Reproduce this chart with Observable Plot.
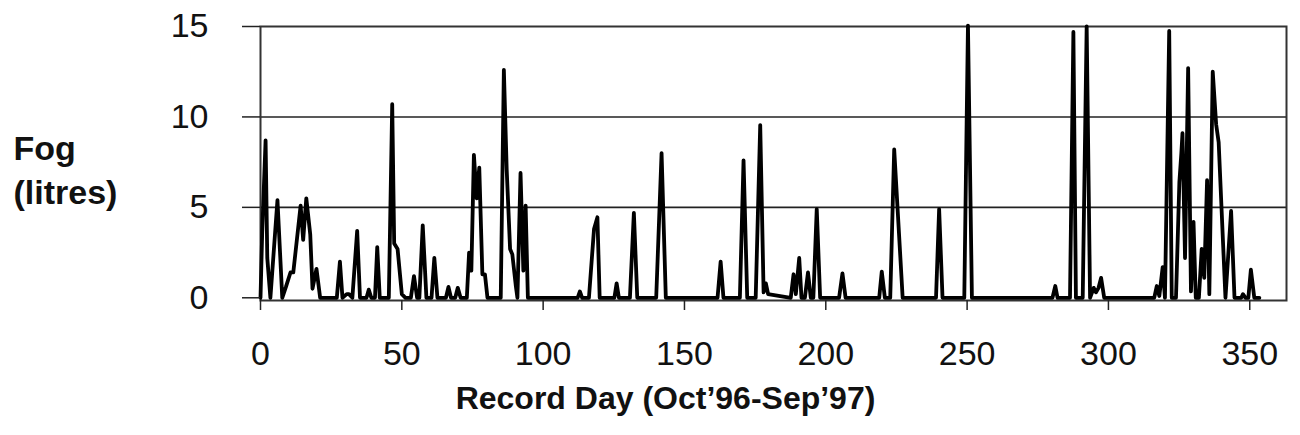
<!DOCTYPE html>
<html>
<head>
<meta charset="utf-8">
<script src="https://cdn.jsdelivr.net/npm/d3@7"></script>
<script src="https://cdn.jsdelivr.net/npm/@observablehq/plot@0.6"></script>
<style>
  html, body { margin: 0; padding: 0; background: #fff; }
  #chart { width: 1300px; height: 435px; }
</style>
</head>
<body>
<div id="chart"></div>
<script>
const days = [
  0, 0.6, 1.8, 2.4, 3.5, 6.0, 7.7, 9.0, 10.6, 11.6, 14.2, 15.1, 16.2, 17.6, 18.4, 19.8, 21.1,
  27.0, 28.1, 29.0, 30.5, 31.3, 32.5, 34.2, 35.2, 37.5, 38.3, 39.2, 40.5, 41.3, 42.2,
  45.4, 46.6, 47.3, 48.5, 50.0, 51.3, 53.2, 54.3, 55.4, 56.2, 57.4, 58.7,
  60.5, 61.5, 62.6, 65.6, 66.5, 67.4, 68.9, 69.8, 70.8,
  73.0, 73.8, 74.6, 75.5, 76.5, 77.4, 78.5, 79.4, 80.3,
  85.0, 86.1, 87.1, 88.3, 89.1, 90.3, 90.9, 92.0, 93.0, 93.8, 94.6,
  112.2, 113.0, 113.8, 116.2, 118.0, 119.2, 120.0, 125.2, 126.0, 126.8,
  130.7, 132.1, 133.3, 140.0, 141.9, 143.4, 161.7, 162.8, 163.8,
  169.6, 170.9, 172.2, 175.2, 176.8, 178.0, 178.8, 179.6,
  187.6, 188.6, 189.4, 190.6, 191.4, 192.6, 193.7, 194.7, 195.6, 196.8, 198.0,
  204.7, 205.9, 207.0, 218.9, 219.8, 220.9, 222.8, 224.2, 227.2,
  239.0, 240.1, 241.3, 249.0, 250.3, 251.7,
  280.2, 281.2, 282.0, 286.4, 287.6, 288.5, 290.9, 292.3, 293.5,
  294.8, 295.6, 296.5, 297.4, 298.5,
  316.2, 317.1, 318.0, 319.2, 320.0, 321.5, 322.4, 323.9,
  325.1, 325.8, 326.2, 327.1, 328.2, 329.2, 330.1, 330.9, 332.0,
  333.0, 333.9, 334.9, 335.7, 336.9, 338.1, 339.0, 340.0, 341.4,
  343.4, 344.6, 347.0, 347.6, 348.5, 349.5, 350.4, 351.6, 353.4
];
const fog = [
  0, 3.6, 8.7, 2.2, 0, 5.4, 0, 0.6, 1.4, 1.4, 5.1, 3.2, 5.5, 3.5, 0.5, 1.6, 0,
  0, 2.0, 0, 0.2, 0.2, 0, 3.7, 0, 0, 0.45, 0, 0, 2.8, 0,
  0, 10.7, 3.0, 2.7, 0.2, 0, 0, 1.2, 0, 0, 4.0, 0,
  0, 2.2, 0, 0, 0.6, 0, 0, 0.55, 0,
  0, 2.5, 1.5, 7.9, 5.5, 7.2, 1.3, 1.3, 0,
  0, 12.6, 7.1, 2.7, 2.4, 0.7, 0, 6.9, 1.5, 5.1, 0,
  0, 0.35, 0, 0, 3.8, 4.45, 0, 0, 0.8, 0,
  0, 4.7, 0, 0, 8.0, 0, 0, 2.0, 0,
  0, 7.6, 0, 0, 9.55, 0.3, 0.8, 0.2,
  0, 1.3, 0.2, 2.2, 0, 0, 1.4, 0, 0, 4.9, 0,
  0, 1.35, 0, 0, 1.45, 0, 0, 8.2, 0,
  0, 4.9, 0, 0, 15.05, 0,
  0, 0.65, 0, 0, 14.7, 0, 0, 15.0, 0,
  0.55, 0.3, 0.55, 1.1, 0,
  0, 0.65, 0.1, 1.7, 0, 14.75, 0, 0,
  6.4, 8.0, 9.1, 2.2, 12.7, 0.35, 4.2, 0, 0,
  2.7, 1.1, 6.5, 0.2, 12.5, 9.6, 8.6, 5.0, 0,
  4.8, 0, 0, 0.2, 0, 0, 1.55, 0, 0
];
const xTicks = [0, 50, 100, 150, 200, 250, 300, 350];
const yTicks = [0, 5, 10, 15];
const gridValues = [5, 10];
const yTitle = "Fog\n(litres)";
const xTitle = "Record Day (Oct\u201996-Sep\u201997)";

const data = days.map((d, i) => ({day: d, fog: fog[i]}));

const chart = Plot.plot({
  width: 1300,
  height: 435,
  marginLeft: 260,
  marginRight: 14,
  marginTop: 26,
  marginBottom: 135,
  style: {fontFamily: "'Liberation Sans', Arial, sans-serif", color: "#111", background: "#fff"},
  x: {domain: [0, 363]},
  y: {domain: [-0.15, 15]},
  marks: [
    Plot.ruleY(gridValues, {stroke: "#222", strokeWidth: 1.6}),
    Plot.frame({stroke: "#333", strokeWidth: 2}),
    Plot.line(data, {x: "day", y: "fog", stroke: "#000", strokeWidth: 3.8, strokeLinejoin: "round"}),
    Plot.axisY({ticks: yTicks, tickSize: 18, tickPadding: 34, fontSize: 34, label: null, stroke: "#222", strokeWidth: 1.5}),
    Plot.axisX({ticks: xTicks, tickSize: 10, tickPadding: 30, fontSize: 34, label: null, stroke: "#222", strokeWidth: 1.5}),
    Plot.text([yTitle], {frameAnchor: "left", text: d => d, dx: -247, dy: 4, textAnchor: "start", lineAnchor: "middle", lineHeight: 1.3, fontSize: 34, fontWeight: "bold", fill: "#111"}),
    Plot.text([xTitle], {frameAnchor: "bottom", text: d => d, dx: -108, dy: 108, fontSize: 32, fontWeight: "bold", fill: "#111"})
  ]
});
document.getElementById("chart").appendChild(chart);
</script>
</body>
</html>
